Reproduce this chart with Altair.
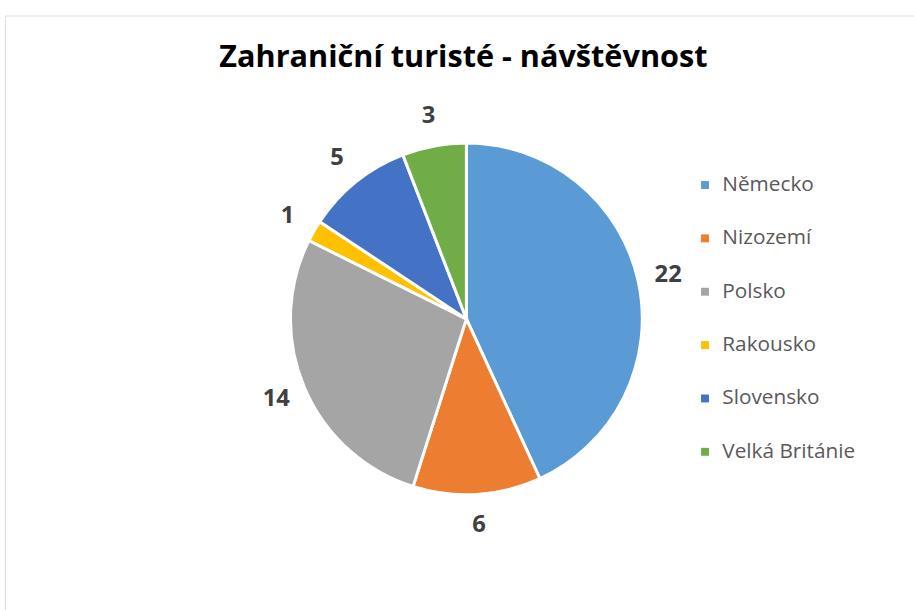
import altair as alt
import pandas as pd

countries = ["Německo", "Nizozemí", "Polsko", "Rakousko", "Slovensko", "Velká Británie"]
values = [22, 6, 14, 1, 5, 3]
colors = ["#5B9BD5", "#ED7D31", "#A5A5A5", "#FFC000", "#4472C4", "#70AD47"]

df = pd.DataFrame({"country": countries, "value": values, "order": list(range(len(countries)))})

cx, cy = 467, 307  # pie centre relative to the view origin

base = alt.Chart(df).encode(
    theta=alt.Theta("value:Q", stack=True),
    order=alt.Order("order:Q"),
)

pie = base.mark_arc(outerRadius=178, stroke="white", strokeWidth=3).encode(
    x=alt.value(cx),
    y=alt.value(cy),
    color=alt.Color(
        "country:N",
        scale=alt.Scale(domain=countries, range=colors),
        legend=alt.Legend(
            title=None,
            orient="none",
            legendX=698,
            legendY=161,
            symbolType="square",
            symbolSize=64,
            symbolStrokeWidth=0,
            labelFont="Open Sans",
            labelFontSize=21,
            labelColor="#595959",
            labelOffset=7,
            rowPadding=32,
            padding=0,
        ),
    ),
)

labels = base.mark_text(
    radius=209,
    font="Open Sans",
    fontSize=24,
    fontWeight="bold",
    color="#404040",
    baseline="middle",
    align="center",
).encode(
    x=alt.value(cx),
    y=alt.value(cy),
    text="value:Q",
)

chart = (
    alt.layer(pie, labels)
    .properties(
        width=920,
        height=610,
        autosize=alt.AutoSizeParams(type="none"),
        padding={"left": 5, "top": 12, "right": 0, "bottom": 0},
        title=alt.TitleParams(
            "Zahraniční turisté - návštěvnost",
            font="Open Sans",
            fontSize=31,
            fontWeight="bold",
            color="#000000",
            anchor="middle",
            frame="group",
            dx=4,
            dy=63,
        ),
    )
    .configure_view(stroke="#D9D9D9", strokeWidth=1.5)
    .configure(background="white")
)

chart.save("out.html", embed_options={"renderer": "svg", "actions": False})
